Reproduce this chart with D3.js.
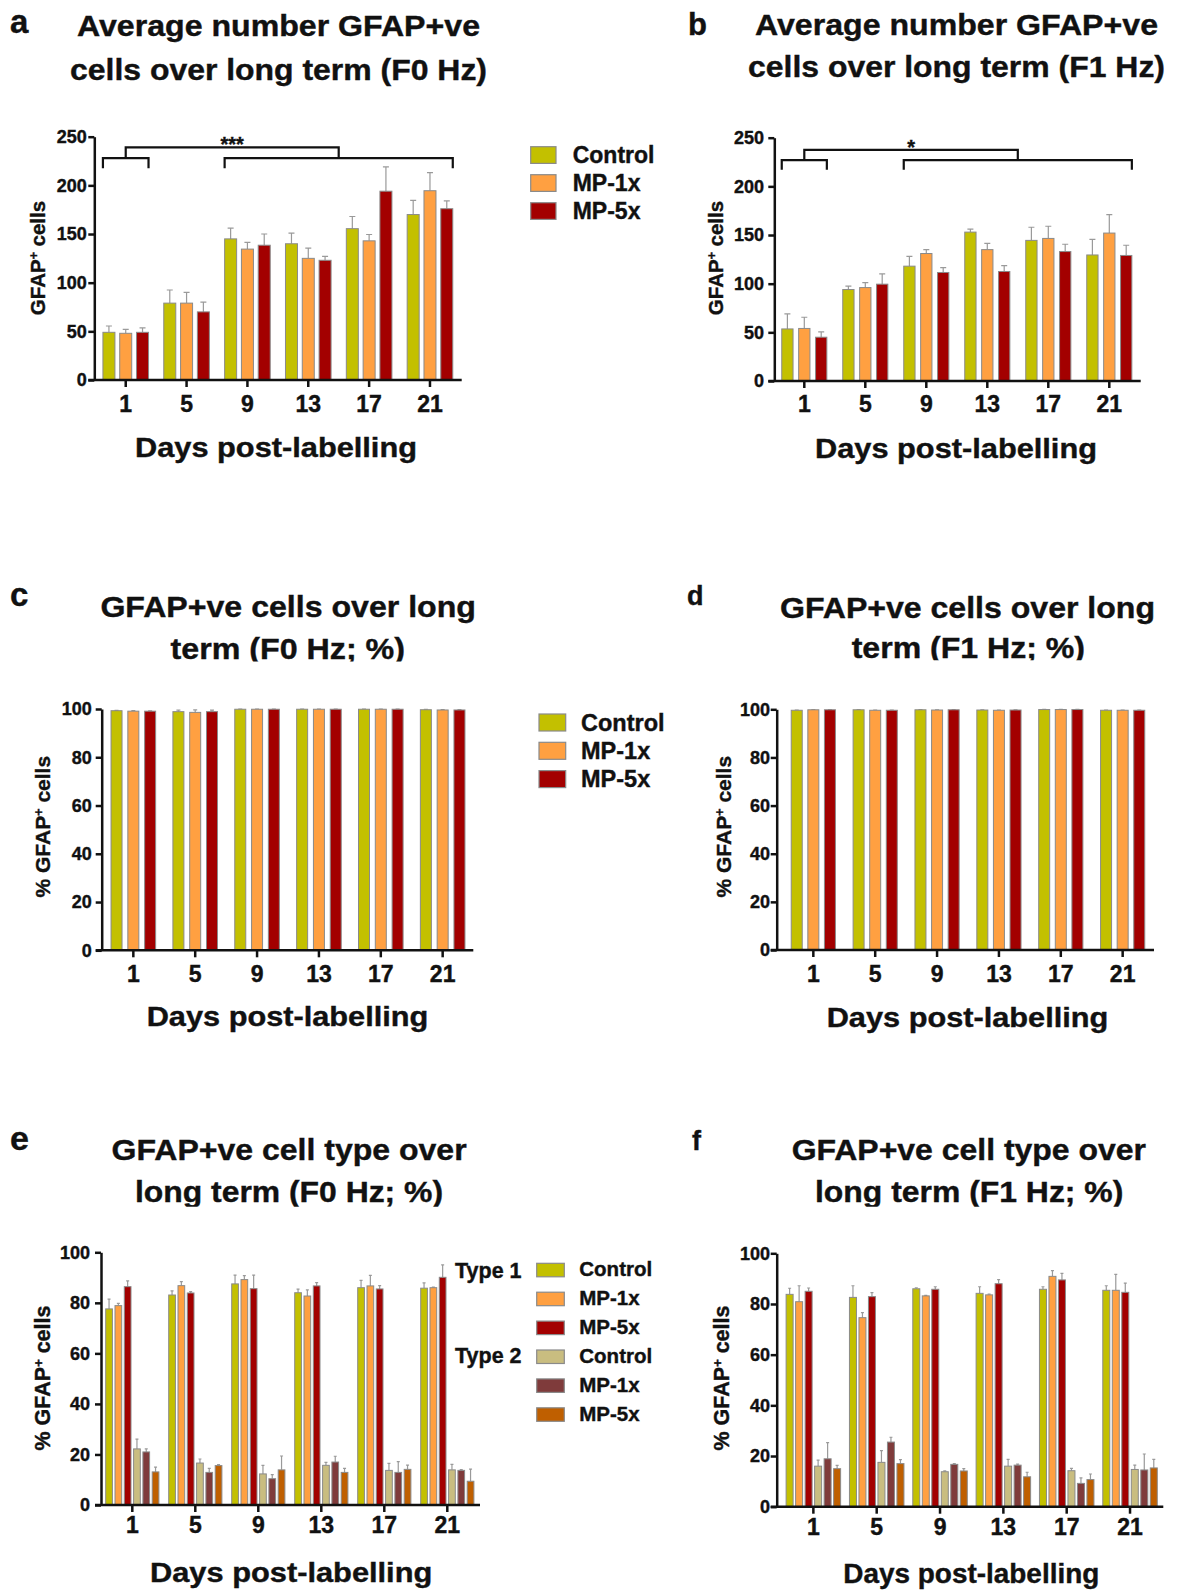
<!DOCTYPE html>
<meta charset="utf-8">
<style>
body { margin: 0; background: #fff; }
svg text { font-family: "Liberation Sans", Arial, sans-serif; font-weight: bold; fill: #111; stroke: #111; stroke-width: 0.4px; }
.bar { stroke: #8a8a8a; stroke-width: 1; }
.err { stroke: #9a9a9a; stroke-width: 1.2; fill: none; }
.axis path, .axis line, .axline { stroke: #111; stroke-width: 2.5; fill: none; }
.bracket { stroke: #111; stroke-width: 2.2; fill: none; }
.lbox { stroke: #8a8a8a; stroke-width: 1.2; }
</style>
<svg width="1179" height="1591"></svg>

<script src="https://d3js.org/d3.v7.min.js"></script>
<script>
var days = ["1", "5", "9", "13", "17", "21"];
var groupNames = ["Control", "MP-1x", "MP-5x"];
var typeNames = ["Type 1", "Type 2"];
var countTicks = [0, 50, 100, 150, 200, 250];
var pctTicks = [0, 20, 40, 60, 80, 100];
var colorsType1 = ["#c3c000", "#ffa041", "#a30000"];
var colorsType2 = ["#c9bd80", "#7f3b3b", "#bf5f00"];

// a: number of GFAP+ cells, F0 Hz (mean, SEM)
var aControl = [49, 79, 145, 140, 155.5, 170];
var aControlSem = [6.5, 13.5, 11, 11, 12.5, 14.5];
var aMP1 = [48, 79, 134.5, 125, 143, 194.5];
var aMP1Sem = [4, 11, 7, 10.5, 6.5, 18.5];
var aMP5 = [49, 70, 138.5, 123, 194, 176];
var aMP5Sem = [4.5, 10, 11.5, 4, 25, 8];
var aBracket = [217.5, 228, 239];
var aSig = "***";

// b: number of GFAP+ cells, F1 Hz
var bControl = [53.5, 94, 118, 153, 144.5, 129.5];
var bControlSem = [15.5, 3.5, 10, 3, 13.5, 16];
var bMP1 = [54, 96, 131, 135, 146.5, 152];
var bMP1Sem = [11.5, 5, 4, 6.5, 12.5, 19];
var bMP5 = [45, 99.5, 111.5, 112.5, 133, 129];
var bMP5Sem = [5.5, 10.5, 5, 6, 7.5, 10.5];
var bBracket = [217, 227, 237.5];
var bSig = "*";

// c: % GFAP+ cells, F0 Hz
var cControl = [99.3, 98.9, 99.9, 99.9, 99.9, 99.7];
var cControlSem = [0.1, 0.6, 0.05, 0.05, 0.05, 0.2];
var cMP1 = [99.1, 98.6, 99.9, 99.9, 99.9, 99.6];
var cMP1Sem = [0.2, 1.0, 0.05, 0.05, 0.05, 0.1];
var cMP5 = [99.1, 98.9, 99.9, 99.9, 99.9, 99.6];
var cMP5Sem = [0.1, 0.6, 0.05, 0.05, 0.05, 0.1];

// d: % GFAP+ cells, F1 Hz
var dControl = [99.6, 99.8, 99.8, 99.7, 99.9, 99.6];
var dControlSem = [0.1, 0.1, 0.1, 0.1, 0.05, 0.1];
var dMP1 = [99.8, 99.6, 99.7, 99.6, 99.9, 99.6];
var dMP1Sem = [0.1, 0.1, 0.1, 0.1, 0.05, 0.1];
var dMP5 = [99.8, 99.6, 99.8, 99.7, 99.9, 99.6];
var dMP5Sem = [0.1, 0.1, 0.1, 0.1, 0.05, 0.1];

// e: cell type, F0 Hz
var eT1Control = [77.6, 83.1, 87.5, 84, 86, 85.8];
var eT1ControlSem = [3.9, 1.6, 3.5, 1.4, 2.9, 2.1];
var eT1MP1 = [78.9, 86.8, 89.2, 82.7, 86.7, 86];
var eT1MP1Sem = [0.9, 1.6, 1.6, 2.4, 4.2, 0.2];
var eT1MP5 = [86.4, 83.9, 85.6, 86.7, 85.5, 90.1];
var eT1MP5Sem = [2.3, 0.5, 5.4, 1.3, 1.3, 4.9];
var eT2Control = [22.2, 16.6, 12.3, 15.7, 13.7, 13.9];
var eT2ControlSem = [3.9, 1.6, 3.4, 1.2, 2.8, 2.2];
var eT2MP1 = [21, 12.9, 10.4, 17, 12.9, 13.7];
var eT2MP1Sem = [1.2, 1.6, 1.6, 2.3, 4.3, 0.3];
var eT2MP5 = [13.1, 15.6, 13.9, 12.9, 14.1, 9.4];
var eT2MP5Sem = [1.9, 0.4, 5.5, 1.6, 1.7, 4.8];

// f: cell type, F1 Hz
var fT1Control = [83.8, 82.6, 86, 84.2, 85.8, 85.4];
var fT1ControlSem = [2.4, 4.6, 0.4, 2.6, 1, 1.8];
var fT1MP1 = [80.9, 74.6, 83.2, 83.6, 90.9, 85.4];
var fT1MP1Sem = [6.3, 2, 0.2, 0.3, 2.3, 6.3];
var fT1MP5 = [85, 82.9, 85.8, 88, 89.5, 84.6];
var fT1MP5Sem = [1.3, 1.6, 1, 1.6, 2.6, 3.6];
var fT2Control = [16, 17.5, 13.8, 16, 14.2, 14.7];
var fT2ControlSem = [2.4, 4.6, 0.3, 2.7, 0.9, 1.7];
var fT2MP1 = [18.9, 25.5, 16.7, 16.4, 9.2, 14.5];
var fT2MP1Sem = [6.4, 1.9, 0.3, 0.4, 2.2, 6.3];
var fT2MP5 = [15, 17, 14.1, 11.8, 10.7, 15.3];
var fT2MP5Sem = [1.3, 1.6, 0.9, 1.8, 2.2, 3.4];

var svg = d3.select("svg");
svg.append("rect").attr("width", 1179).attr("height", 1591).attr("fill", "#fff");

function three(v1, s1, v2, s2, v3, s3) {
  return [
    {values: v1, sem: s1, color: colorsType1[0]},
    {values: v2, sem: s2, color: colorsType1[1]},
    {values: v3, sem: s3, color: colorsType1[2]}
  ];
}

function txt(parent, s, x, y, size, len, anchor) {
  var t = parent.append("text")
    .attr("x", x).attr("y", y)
    .attr("text-anchor", anchor || "start")
    .style("font-size", size + "px")
    .text(s);
  if (len) t.attr("textLength", len).attr("lengthAdjust", "spacingAndGlyphs");
  return t;
}

var clipCount = 0;

function drawPanel(p) {
  var g = svg.append("g");
  var y = d3.scaleLinear().domain([0, p.yMax]).range([p.yZero, p.yTop]);
  var x = d3.scaleBand().domain(days).range([p.x0, p.x1]);
  var n = p.series.length;
  var pad = 1 - p.bw / p.step;
  var gw = p.step * (n - pad);
  var xi = d3.scaleBand().domain(d3.range(n)).range([-gw / 2, gw / 2]).paddingInner(pad);
  var barX = function(day, si) { return x(day) + x.bandwidth() / 2 + xi(si); };

  p.series.forEach(function(s, si) {
    var gs = g.append("g");
    gs.selectAll("path")
      .data(s.values)
      .enter().append("path")
      .attr("class", "err")
      .attr("d", function(d, i) {
        var cx = barX(days[i], si) + xi.bandwidth() / 2;
        var top = y(d + s.sem[i]);
        return "M" + cx + "," + y(d) + "V" + top +
          "M" + (cx - p.cap / 2) + "," + top + "H" + (cx + p.cap / 2);
      });
    gs.selectAll("rect")
      .data(s.values)
      .enter().append("rect")
      .attr("class", "bar")
      .attr("x", function(d, i) { return barX(days[i], si); })
      .attr("y", function(d) { return y(d); })
      .attr("width", xi.bandwidth())
      .attr("height", function(d) { return y(0) - y(d); })
      .attr("fill", s.color);
  });

  // axes
  var gy = g.append("g")
    .attr("class", "axis")
    .attr("transform", "translate(" + p.ax + ",0)")
    .call(d3.axisLeft(y).tickValues(p.yTicks).tickSize(6).tickSizeOuter(0).tickPadding(p.ytPad));
  gy.selectAll("text").style("font-size", "18px");

  var gx = g.append("g")
    .attr("class", "axis")
    .attr("transform", "translate(0," + p.yZero + ")")
    .call(d3.axisBottom(x).tickSize(7).tickSizeOuter(0));
  gx.select(".domain").remove();
  gx.selectAll("text")
    .attr("y", p.xtBase - p.yZero).attr("dy", 0)
    .style("font-size", "23px");
  g.append("path").attr("class", "axline")
    .attr("d", "M" + (p.ax - 6) + "," + p.yZero + "H" + p.axEnd);

  // brackets
  if (p.bracket) {
    var lv = p.bracket;
    var lA = barX(days[0], 0), lB = barX(days[0], n - 1) + xi.bandwidth();
    var rA = barX(days[2], 0), rB = barX(days[5], n - 1) + xi.bandwidth();
    var bp = function(a, b, yl, yb) {
      return "M" + a + "," + y(yl) + "V" + y(yb) + "H" + b + "V" + y(yl);
    };
    g.append("path").attr("class", "bracket").attr("d", bp(lA, lB, lv[0], lv[1]));
    g.append("path").attr("class", "bracket").attr("d", bp(rA, rB, lv[0], lv[1]));
    g.append("path").attr("class", "bracket").attr("d", bp((lA + lB) / 2, (rA + rB) / 2, lv[1], lv[2]));
    txt(g, p.sig, ((lA + lB) / 2 + (rA + rB) / 2) / 2, y(lv[2]) + 4, 20, null, "middle");
  }

  // texts
  txt(g, p.letter[0], p.letter[1], p.letter[2], p.letter[3]);
  txt(g, p.t1[0], p.t1[1], p.t1[2], p.tfs, p.t1[3]);
  var t2 = txt(g, p.t2[0], p.t2[1], p.t2[2], p.tfs, p.t2[3]);
  if (p.clip) {
    var id = "clip" + (clipCount++);
    svg.append("clipPath").attr("id", id).append("rect")
      .attr("x", 0).attr("y", 0).attr("width", 1179).attr("height", p.t2[2] + p.clip);
    t2.attr("clip-path", "url(#" + id + ")");
  }
  txt(g, "Days post-labelling", p.xt[0], p.xt[1], 27, p.xt[2]);

  var yt = g.append("text")
    .attr("transform", "translate(" + p.yt[0] + "," + p.yt[1] + ") rotate(-90)")
    .attr("text-anchor", "middle")
    .style("font-size", p.yt[2] + "px");
  yt.append("tspan").text(p.pct ? "% GFAP" : "GFAP");
  yt.append("tspan").attr("baseline-shift", "super").style("font-size", (p.yt[2] * 0.6) + "px").text("+");
  yt.append("tspan").text(" cells");
}

function legend(l, items) {
  var g = svg.append("g");
  items.forEach(function(it, i) {
    var top = l.top + i * l.gap;
    g.append("rect").attr("class", "lbox")
      .attr("x", l.x).attr("y", top).attr("width", l.w).attr("height", l.h)
      .attr("fill", it.color);
    txt(g, it.name, l.tx, top + l.base, l.fs);
  });
  return g;
}

drawPanel({
  series: three(aControl, aControlSem, aMP1, aMP1Sem, aMP5, aMP5Sem),
  yMax: 250, yTicks: countTicks, ax: 94.3, yTop: 136.7, yZero: 380,
  x0: 95.3, x1: 460.4, axEnd: 461.7, bw: 12, step: 16.8, cap: 6, ytPad: 1.6, xtBase: 411.7,
  bracket: aBracket, sig: aSig,
  letter: ["a", 10, 33, 33],
  tfs: 29, t1: ["Average number GFAP+ve", 77, 36, 403], t2: ["cells over long term (F0 Hz)", 70, 80, 417],
  xt: [135, 457, 282], yt: [45, 258, 20.5], pct: false
});

drawPanel({
  series: three(bControl, bControlSem, bMP1, bMP1Sem, bMP5, bMP5Sem),
  yMax: 250, yTicks: countTicks, ax: 774.3, yTop: 137.7, yZero: 381,
  x0: 773.8, x1: 1139.8, axEnd: 1140.7, bw: 11.3, step: 16.9, cap: 6, ytPad: 4.3, xtBase: 411.7,
  bracket: bBracket, sig: bSig,
  letter: ["b", 688, 35, 31],
  tfs: 30, t1: ["Average number GFAP+ve", 755, 35, 403], t2: ["cells over long term (F1 Hz)", 748, 77, 417],
  xt: [815, 458, 282], yt: [723, 258, 20.5], pct: false
});

drawPanel({
  series: three(cControl, cControlSem, cMP1, cMP1Sem, cMP5, cMP5Sem),
  yMax: 100, yTicks: pctTicks, ax: 101.7, yTop: 709, yZero: 950.3,
  x0: 102.4, x1: 473.6, axEnd: 473.3, bw: 11, step: 16.8, cap: 4, ytPad: 4, xtBase: 981.7,
  letter: ["c", 10, 606, 33],
  tfs: 30, t1: ["GFAP+ve cells over long", 100.4, 617, 375.5], t2: ["term (F0 Hz; %)", 170.5, 659, 234.5], clip: 2.5,
  xt: [146.7, 1026, 281.6], yt: [50, 826.7, 21], pct: true
});

drawPanel({
  series: three(dControl, dControlSem, dMP1, dMP1Sem, dMP5, dMP5Sem),
  yMax: 100, yTicks: pctTicks, ax: 776.7, yTop: 709.3, yZero: 950,
  x0: 782.4, x1: 1153.6, axEnd: 1154, bw: 11, step: 16.6, cap: 4, ytPad: 0.7, xtBase: 981.7,
  letter: ["d", 687, 605, 27],
  tfs: 29, t1: ["GFAP+ve cells over long", 780, 618.3, 375], t2: ["term (F1 Hz; %)", 851.7, 658.3, 233.3], clip: 2,
  xt: [826.7, 1026.7, 281.6], yt: [731, 826.7, 21], pct: true
});

drawPanel({
  series: [
    {values: eT1Control, sem: eT1ControlSem, color: colorsType1[0]},
    {values: eT1MP1, sem: eT1MP1Sem, color: colorsType1[1]},
    {values: eT1MP5, sem: eT1MP5Sem, color: colorsType1[2]},
    {values: eT2Control, sem: eT2ControlSem, color: colorsType2[0]},
    {values: eT2MP1, sem: eT2MP1Sem, color: colorsType2[1]},
    {values: eT2MP5, sem: eT2MP5Sem, color: colorsType2[2]}
  ],
  yMax: 100, yTicks: pctTicks, ax: 101, yTop: 1252.3, yZero: 1505,
  x0: 100.8, x1: 478.8, axEnd: 480, bw: 6.7, step: 9.3, cap: 3, ytPad: 5, xtBase: 1533.3,
  letter: ["e", 10, 1150, 34],
  tfs: 30, t1: ["GFAP+ve cell type over", 111.6, 1160, 355], t2: ["long term (F0 Hz; %)", 135, 1201.7, 308], clip: 5,
  xt: [150, 1581.7, 282.3], yt: [50, 1378, 21.5], pct: true
});

drawPanel({
  series: [
    {values: fT1Control, sem: fT1ControlSem, color: colorsType1[0]},
    {values: fT1MP1, sem: fT1MP1Sem, color: colorsType1[1]},
    {values: fT1MP5, sem: fT1MP5Sem, color: colorsType1[2]},
    {values: fT2Control, sem: fT2ControlSem, color: colorsType2[0]},
    {values: fT2MP1, sem: fT2MP1Sem, color: colorsType2[1]},
    {values: fT2MP5, sem: fT2MP5Sem, color: colorsType2[2]}
  ],
  yMax: 100, yTicks: pctTicks, ax: 776.7, yTop: 1253.3, yZero: 1506.7,
  x0: 781.7, x1: 1161.7, axEnd: 1163.3, bw: 7, step: 9.5, cap: 3, ytPad: 0.7, xtBase: 1535,
  letter: ["f", 692, 1150, 27],
  tfs: 29, t1: ["GFAP+ve cell type over", 791.7, 1160, 354.3], t2: ["long term (F1 Hz; %)", 815, 1201.7, 308.3], clip: 5,
  xt: [843.3, 1583.3, 256], yt: [729, 1378, 21.5], pct: true
});

// legends
var legItems = groupNames.map(function(nm, i) { return {name: nm, color: colorsType1[i]}; });
legend({x: 530.7, w: 25.3, h: 16.7, top: 146.7, gap: 28, tx: 572.7, base: 16.6, fs: 23}, legItems);
legend({x: 539, w: 26.7, h: 17, top: 714, gap: 28.3, tx: 581, base: 16.7, fs: 23.5}, legItems);

var legItems2 = legItems.concat(groupNames.map(function(nm, i) { return {name: nm, color: colorsType2[i]}; }));
var le = legend({x: 536.7, w: 27.6, h: 13.5, top: 1263.3, gap: 28.9, tx: 579.3, base: 12.7, fs: 20.5}, legItems2);
txt(le, typeNames[0], 455, 1277.7, 21.5);
txt(le, typeNames[1], 455, 1363.3, 21.5);
</script>
